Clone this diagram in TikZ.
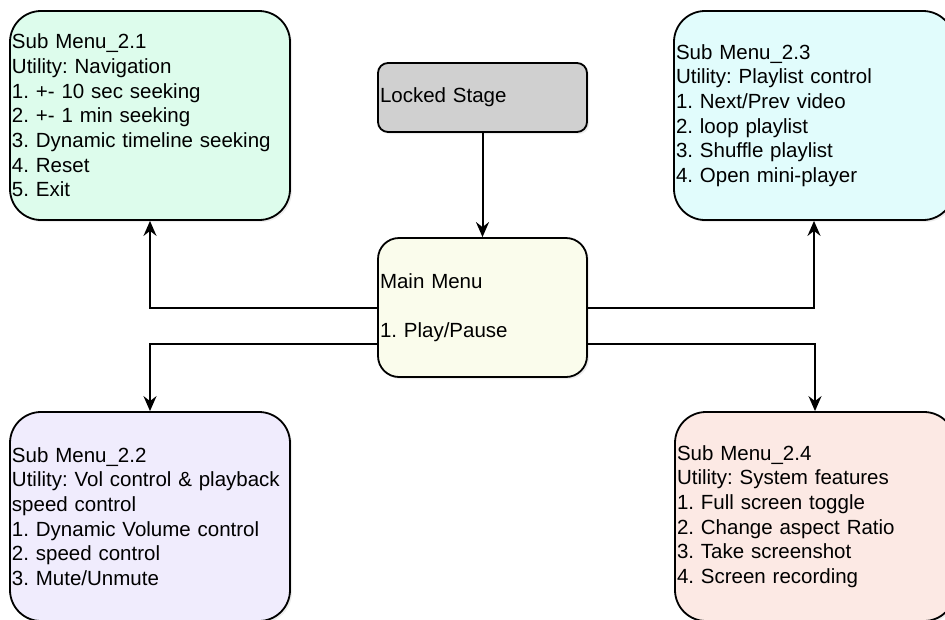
\documentclass[tikz,border=0pt]{standalone}
\usepackage{fontspec}
\setmainfont{Liberation Sans}
\frenchspacing
\usetikzlibrary{arrows.meta,shadows}
\definecolor{cA}{RGB}{221,252,236}
\definecolor{cB}{RGB}{240,236,253}
\definecolor{cC}{RGB}{225,252,252}
\definecolor{cD}{RGB}{252,233,228}
\definecolor{cMain}{RGB}{250,252,236}
\definecolor{cLock}{RGB}{208,208,208}
\tikzset{
  box/.style={draw=black, line width=1.8pt, rectangle, inner xsep=2pt, inner ysep=0pt,
    align=left, font=\fontsize{20.5}{24.7}\selectfont,
    drop shadow={opacity=0.15, shadow xshift=2pt, shadow yshift=-2pt}},
  subbox/.style={box, rounded corners=31pt, text width=276pt, minimum width=280pt, minimum height=209pt},
  arr/.style={draw=black, line width=2pt, -{Stealth[length=15pt, width=13pt, inset=5pt]}}
}
\begin{document}
\begin{tikzpicture}[x=1pt, y=-1pt]
\useasboundingbox (0,0) rectangle (945,619);
\clip (0,0) rectangle (945,619);
\fill[white] (0,0) rectangle (945,619);
\node[subbox, fill=cA] (s21) at (150,115.5) {Sub Menu\_2.1\\Utility: Navigation\\1. +- 10 sec seeking\\2. +- 1 min seeking\\3. Dynamic timeline seeking\\4. Reset\\5. Exit};
\node[subbox, fill=cC] (s23) at (814,115.5) {Sub Menu\_2.3\\Utility: Playlist control\\1. Next/Prev video\\2. loop playlist\\3. Shuffle playlist\\4. Open mini-player};
\node[subbox, fill=cB] (s22) at (150,516.5) {Sub Menu\_2.2\\Utility: Vol control \& playback\\speed control\\1. Dynamic Volume control\\2. speed control\\3. Mute/Unmute};
\node[subbox, fill=cD] (s24) at (815,516.5) {Sub Menu\_2.4\\Utility: System features\\1. Full screen toggle\\2. Change aspect Ratio\\3. Take screenshot\\4. Screen recording};
\node[box, fill=cLock, rounded corners=10pt, text width=205pt, minimum width=209pt, minimum height=69pt] (lock) at (482.5,97.5) {Locked Stage};
\node[box, fill=cMain, rounded corners=21pt, text width=205pt, minimum width=209pt, minimum height=139pt] (main) at (482.5,307.5) {Main Menu\\\strut\\1. Play/Pause};
\draw[arr] (lock.south) -- (main.north);
\draw[arr] (main.west) -| (s21.south);
\draw[arr] ([yshift=-36pt]main.west) -| (s22.north);
\draw[arr] (main.east) -| (s23.south);
\draw[arr] ([yshift=-36pt]main.east) -| (s24.north);
\end{tikzpicture}
\end{document}
